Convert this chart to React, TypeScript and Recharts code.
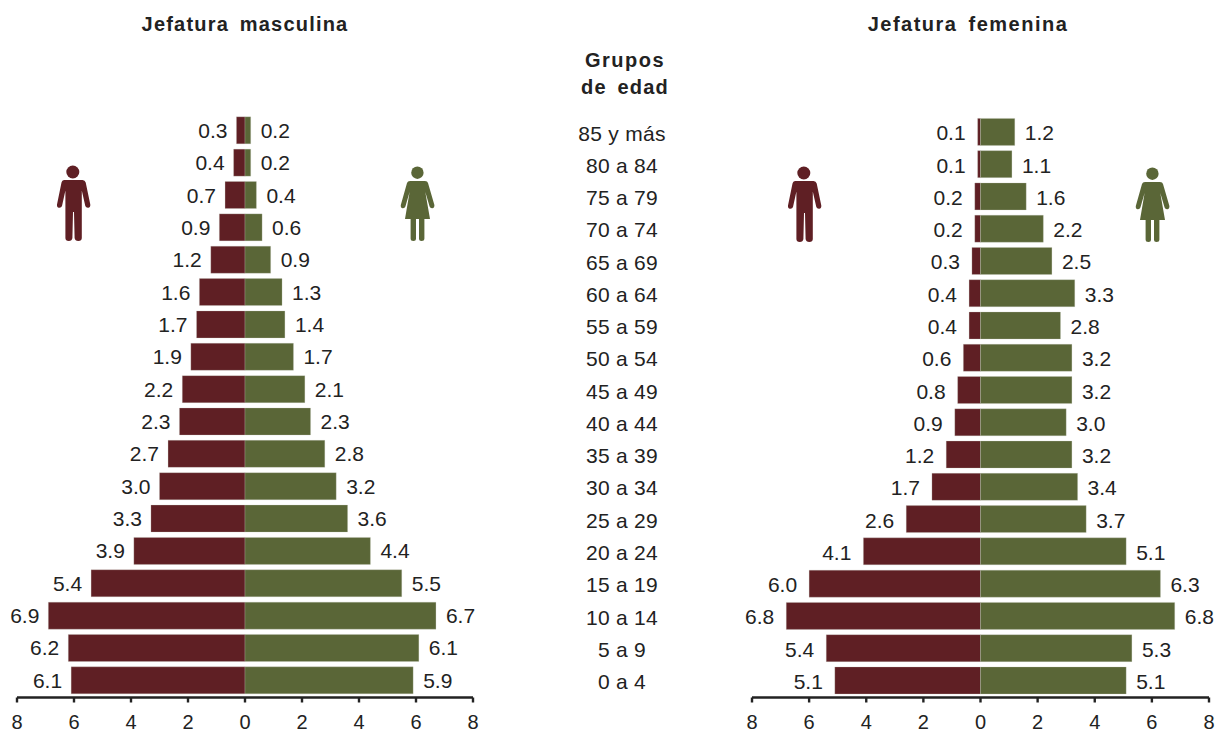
import React from "react";
import { BarChart, Bar, XAxis, YAxis, LabelList } from "recharts";

const grupos = ["85 y más","80 a 84","75 a 79","70 a 74","65 a 69","60 a 64","55 a 59","50 a 54","45 a 49","40 a 44","35 a 39","30 a 34","25 a 29","20 a 24","15 a 19","10 a 14","5 a 9","0 a 4"];
const masculinaHombres = [0.3,0.4,0.7,0.9,1.2,1.6,1.7,1.9,2.2,2.3,2.7,3.0,3.3,3.9,5.4,6.9,6.2,6.1];
const masculinaMujeres = [0.2,0.2,0.4,0.6,0.9,1.3,1.4,1.7,2.1,2.3,2.8,3.2,3.6,4.4,5.5,6.7,6.1,5.9];
const femeninaHombres = [0.1,0.1,0.2,0.2,0.3,0.4,0.4,0.6,0.8,0.9,1.2,1.7,2.6,4.1,6.0,6.8,5.4,5.1];
const femeninaMujeres = [1.2,1.1,1.6,2.2,2.5,3.3,2.8,3.2,3.2,3.0,3.2,3.4,3.7,5.1,6.3,6.8,5.3,5.1];
const ticks = [-8,-6,-4,-2,0,2,4,6,8];

const MAROON = "#5F1F24";
const OLIVE = "#5A6637";
const EDGE = "#c4c6ba";
const INK = "#222222";
const FONT = "'Liberation Sans', Arial, sans-serif";

const table = (h: number[], m: number[]) =>
  grupos.map((g, i) => ({ g, h: -h[i], m: m[i] }));

const makeLabel = (side: "left" | "right", gap: number, dy: number) => (p: any) => {
  const x0 = Math.min(p.x, p.x + p.width);
  const x1 = Math.max(p.x, p.x + p.width);
  return (
    <text
      x={side === "left" ? x0 - gap : x1 + gap}
      y={p.y + p.height / 2 + dy}
      textAnchor={side === "left" ? "end" : "start"}
      fontSize={21}
      fontFamily={FONT}
      fill={INK}
    >
      {Math.abs(p.value).toFixed(1)}
    </text>
  );
};

const CenterTick = (p: any) => (
  <text x={622} y={p.y + 9} textAnchor="middle" fontSize={21} letterSpacing={0.3} fontFamily={FONT} fill={INK}>
    {p.payload.value}
  </text>
);

function Pyramid({ h, m, left, plotWidth, top, leftGap, labelDy, showGroups }: { h: number[]; m: number[]; left: number; plotWidth: number; top: number; leftGap: number; labelDy: number; showGroups?: boolean }) {
  const W = 1217;
  const yWidth = showGroups ? 192 : 0;
  return (
    <div style={{ position: "absolute", left: 0, top: 0 }}>
      <BarChart
        width={W}
        height={732}
        data={table(h, m)}
        layout="vertical"
        stackOffset="sign"
        barCategoryGap={0}
        barSize={27}
        margin={{ top, bottom: 0, left: left - yWidth, right: W - left - plotWidth }}
      >
        <XAxis
          type="number"
          dataKey="m"
          domain={[-8, 8]}
          ticks={ticks}
          interval={0}
          allowDataOverflow
          tickFormatter={(v: number) => String(Math.abs(v))}
          axisLine={{ stroke: INK, strokeWidth: 2.4 }}
          tickLine={{ stroke: INK, strokeWidth: 2.4 }}
          tickSize={5}
          tickMargin={12}
          height={34.5}
          tick={{ fontSize: 20, fontFamily: FONT, fill: INK }}
        />
        <YAxis
          type="category"
          dataKey="g"
          width={yWidth}
          hide={!showGroups}
          axisLine={false}
          tickLine={false}
          interval={0}
          padding={{ top: 0, bottom: 1.3 }}
          tick={<CenterTick />}
        />
        <Bar dataKey="h" stackId="a" fill={MAROON} stroke={EDGE} strokeOpacity={0.45} strokeWidth={0.6} isAnimationActive={false}>
          <LabelList dataKey="h" content={makeLabel("left", leftGap, labelDy)} />
        </Bar>
        <Bar dataKey="m" stackId="a" fill={OLIVE} stroke={EDGE} strokeOpacity={0.45} strokeWidth={0.6} isAnimationActive={false}>
          <LabelList dataKey="m" content={makeLabel("right", 10, labelDy)} />
        </Bar>
      </BarChart>
    </div>
  );
}

const Man = ({ dx, dy }: { dx: number; dy: number }) => (
  <g transform={`translate(${dx},${dy})`} fill={MAROON}>
    <circle cx={72.8} cy={172} r={6.5} />
    <path d="M64 180H82.5Q85 180 85.7 182.5L90.3 204.5Q90.6 207.5 88.2 207.8Q86 208 85.3 206L81.8 190.5V238Q81.8 241 78.3 241Q75 241 74.6 238L74 212H73L72.4 238Q72 241 68.8 241Q65.4 241 65.4 238V190.5L62 206Q61.3 208 59 207.8Q56.6 207.5 57 204.5L61.5 182.5Q62 180 64 180Z" />
  </g>
);

const Woman = ({ dx, dy }: { dx: number; dy: number }) => (
  <g transform={`translate(${dx},${dy})`} fill={OLIVE}>
    <circle cx={417.4} cy={172.7} r={6.2} />
    <path d="M410 181H425Q427.5 181 428 183L434.4 205Q434.6 208 432.3 208.2Q430.3 208.4 429.6 206.5L425.3 192L430 219H424.4V238.5Q424.4 241 421.5 241Q419 241 419 238.5V219H416V238.5Q416 241 413.4 241Q410.6 241 410.6 238.5V219H405L409.6 192L405.4 206.5Q404.7 208.4 402.7 208.2Q400.4 208 400.8 205L407 183Q407.6 181 410 181Z" />
  </g>
);

const titleStyle: React.CSSProperties = {
  position: "absolute",
  fontFamily: FONT,
  fontWeight: 700,
  fontSize: 20,
  letterSpacing: 1.2,
  wordSpacing: 4,
  color: INK,
  whiteSpace: "nowrap",
  lineHeight: "22px",
  textAlign: "center",
  transform: "translateX(-50%)",
};

export default function App() {
  return (
    <div style={{ position: "absolute", left: 0, top: 0, width: 1217, height: 732, background: "#fff", overflow: "hidden" }}>
      <Pyramid h={masculinaHombres} m={masculinaMujeres} left={17} plotWidth={456} top={113.8} leftGap={9} labelDy={7.5} />
      <Pyramid h={femeninaHombres} m={femeninaMujeres} left={752} plotWidth={457} top={115.4} leftGap={12} labelDy={8.5} showGroups />
      <svg width={1217} height={732} style={{ position: "absolute", left: 0, top: 0 }}>
        <Man dx={0} dy={0} />
        <Woman dx={0} dy={0} />
        <Man dx={731} dy={1} />
        <Woman dx={735} dy={1} />
      </svg>
      <div style={{ ...titleStyle, left: 245, top: 13 }}>Jefatura masculina</div>
      <div style={{ ...titleStyle, left: 968, top: 13, letterSpacing: 1.5 }}>Jefatura femenina</div>
      <div style={{ ...titleStyle, left: 625, top: 49, letterSpacing: 1.5 }}>Grupos</div>
      <div style={{ ...titleStyle, left: 625, top: 76 }}>de edad</div>
    </div>
  );
}
